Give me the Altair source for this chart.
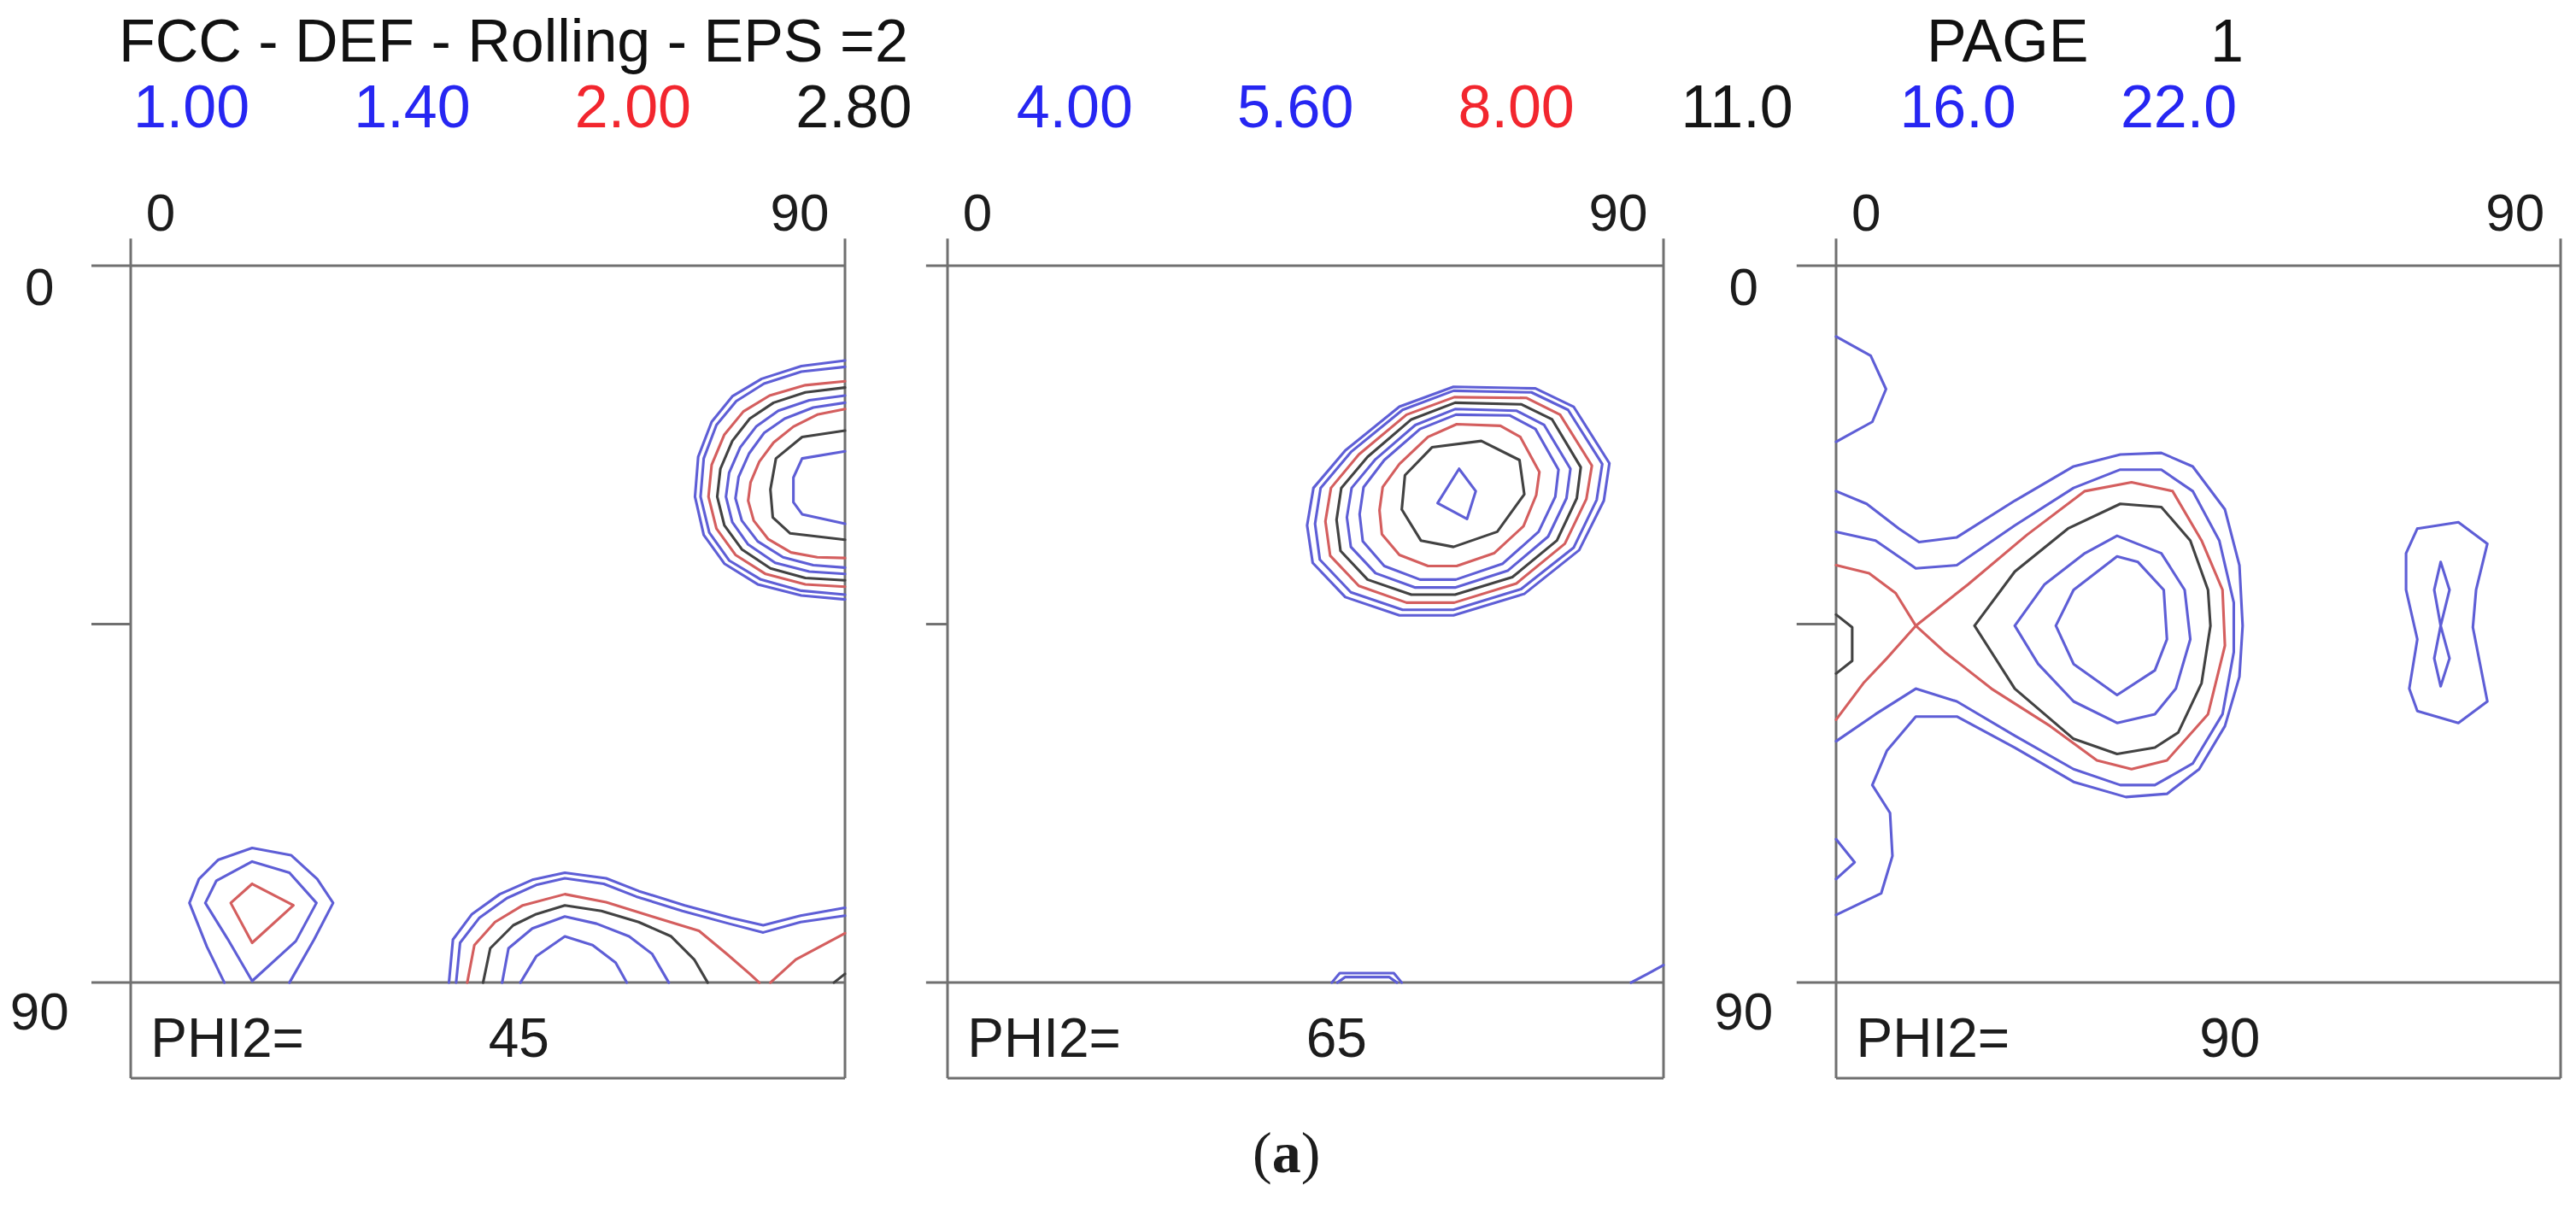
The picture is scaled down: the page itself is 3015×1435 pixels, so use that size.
import altair as alt
import pandas as pd

# ---------------- values ----------------
TITLE = "FCC - DEF - Rolling - EPS =2"
PAGE_WORD = "PAGE"
PAGE_NO = "1"
LEVELS = ["1.00", "1.40", "2.00", "2.80", "4.00", "5.60", "8.00", "11.0", "16.0", "22.0"]
LEVEL_HUES = ["blue", "blue", "red", "black", "blue", "blue", "red", "black", "blue", "blue"]
PHI2_VALUES = ["45", "65", "90"]
CAPTION = "a"

# contour polylines: (level, [(phi1, PHI), ...])
P1_RIGHT_TOP = [
    ("1.00", [(90, 11.9), (84.5, 12.6), (79.5, 14.2), (75.8, 16.4), (73.2, 19.6), (71.5, 24.0), (71.1, 29.0), (72.2, 33.8), (74.8, 37.4), (79.0, 40.0), (84.5, 41.4), (90, 41.9)]),
    ("1.40", [(90, 12.7), (84.5, 13.3), (79.8, 14.8), (76.3, 17.0), (73.8, 20.0), (72.2, 24.2), (71.8, 29.0), (72.9, 33.5), (75.4, 37.0), (79.4, 39.4), (84.5, 40.8), (90, 41.3)]),
    ("2.00", [(90, 14.5), (85, 15.0), (80.5, 16.3), (77.2, 18.3), (74.8, 21.2), (73.2, 25.0), (72.8, 29.0), (73.8, 33.0), (76.2, 36.3), (80.0, 38.7), (85, 40.0), (90, 40.3)]),
    ("2.80", [(90, 15.3), (85, 15.9), (81.0, 17.2), (78.0, 19.2), (75.8, 22.0), (74.3, 25.5), (73.9, 29.0), (74.8, 32.6), (77.0, 35.6), (80.6, 38.0), (85, 39.2), (90, 39.5)]),
    ("4.00", [(90, 16.3), (85.5, 16.9), (81.6, 18.2), (78.8, 20.2), (76.8, 22.8), (75.4, 26.0), (75.0, 29.0), (75.8, 32.2), (77.8, 35.0), (81.2, 37.3), (85.5, 38.4), (90, 38.7)]),
    ("5.60", [(90, 17.2), (86, 17.8), (82.4, 19.2), (79.8, 21.0), (77.9, 23.6), (76.6, 26.5), (76.2, 29.2), (77.0, 32.0), (79.0, 34.6), (82.2, 36.6), (86, 37.6), (90, 37.9)]),
    ("8.00", [(90, 18.0), (86.5, 18.7), (83.5, 20.2), (81.0, 22.2), (79.2, 24.6), (78.1, 27.2), (77.8, 29.5), (78.5, 32.0), (80.3, 34.3), (83.2, 36.0), (86.5, 36.6), (90, 36.7)]),
    ("11.0", [(90, 20.7), (84.6, 21.5), (81.3, 24.2), (80.6, 28.1), (80.9, 31.6), (83.1, 33.6), (90, 34.4)]),
    ("16.0", [(90, 23.3), (84.6, 24.2), (83.5, 26.6), (83.5, 29.7), (84.6, 31.2), (90, 32.4)]),
]
P1_BOTTOM_LEFT = [
    ("1.00", [(11.8, 90), (9.6, 85.5), (7.4, 80.0), (8.6, 77.0), (11.0, 74.6), (15.3, 73.1), (20.2, 74.0), (23.5, 77.0), (25.5, 80.0), (23.1, 84.6), (20.0, 90)]),
    ("1.40", [(15.3, 89.8), (12.2, 84.5), (9.4, 80.0), (10.8, 77.2), (15.3, 74.8), (20.0, 76.2), (23.4, 80.0), (20.8, 84.8), (15.3, 89.8)]),
    ("2.00", [(15.3, 77.6), (20.5, 80.3), (15.3, 85.0), (12.6, 80.0), (15.3, 77.6)]),
]
P1_BOTTOM_MID = [
    ("1.00", [(40.1, 90), (40.6, 84.6), (43.0, 81.4), (46.5, 78.9), (50.6, 77.1), (54.7, 76.2), (59.9, 76.9), (64.0, 78.5), (69.8, 80.3), (75.7, 81.9), (79.7, 82.8), (84.4, 81.6), (90, 80.6)]),
    ("1.40", [(41.0, 90), (41.5, 85.0), (43.9, 81.9), (47.4, 79.4), (51.2, 77.7), (54.7, 76.9), (59.6, 77.6), (63.7, 79.2), (69.5, 81.0), (75.4, 82.6), (79.7, 83.7), (84.4, 82.4), (90, 81.6)]),
    ("2.00", [(42.4, 90), (43.3, 85.3), (45.9, 82.4), (49.4, 80.3), (54.7, 78.9), (59.9, 79.9), (65.7, 81.7), (71.6, 83.5), (75.1, 86.4), (78.0, 88.9), (79.2, 90)]),
    ("2.00", [(80.6, 90), (83.8, 87.1), (90, 83.8)]),
    ("2.80", [(44.4, 90), (45.3, 85.7), (48.2, 82.8), (51.1, 81.4), (54.7, 80.3), (59.3, 81.0), (64.0, 82.4), (68.1, 84.2), (71.0, 87.1), (72.7, 90)]),
    ("4.00", [(46.8, 90), (47.6, 85.7), (50.6, 83.2), (54.7, 81.7), (58.7, 82.6), (62.8, 84.2), (65.7, 86.4), (67.8, 90)]),
    ("5.60", [(49.1, 90), (51.1, 86.7), (54.7, 84.2), (58.2, 85.3), (61.1, 87.5), (62.5, 90)]),
    ("2.80", [(88.6, 90), (90, 88.9)]),
]
P2_MAIN = [
    ("1.00", [(45.2, 32.6), (46.0, 27.9), (50.0, 23.2), (56.8, 17.7), (63.6, 15.2), (73.9, 15.4), (78.7, 17.7), (83.2, 24.8), (82.5, 29.5), (79.4, 35.7), (72.5, 41.2), (63.6, 43.9), (56.8, 43.9), (50.0, 41.6), (45.9, 37.3), (45.2, 32.6)]),
    ("1.40", [(46.2, 32.4), (46.9, 27.9), (50.7, 23.4), (57.2, 18.1), (63.6, 15.7), (73.4, 15.9), (78.0, 18.1), (82.3, 24.9), (81.6, 29.4), (78.7, 35.4), (72.1, 40.6), (63.6, 43.2), (57.2, 43.2), (50.7, 41.0), (46.8, 36.9), (46.2, 32.4)]),
    ("2.00", [(47.5, 32.1), (48.2, 27.9), (51.7, 23.7), (57.7, 18.7), (63.7, 16.5), (72.8, 16.6), (77.0, 18.7), (81.0, 25.1), (80.3, 29.3), (77.6, 34.9), (71.5, 39.9), (63.7, 42.3), (57.7, 42.3), (51.7, 40.2), (48.1, 36.4), (47.5, 32.1)]),
    ("2.80", [(48.9, 31.9), (49.5, 27.9), (52.8, 24.0), (58.3, 19.3), (63.8, 17.2), (72.1, 17.4), (76.0, 19.3), (79.6, 25.3), (79.1, 29.2), (76.6, 34.5), (71.0, 39.1), (63.8, 41.3), (58.3, 41.3), (52.8, 39.4), (49.4, 35.8), (48.9, 31.9)]),
    ("4.00", [(50.2, 31.6), (50.8, 27.9), (53.8, 24.3), (58.8, 20.0), (63.8, 18.0), (71.5, 18.2), (75.0, 20.0), (78.3, 25.5), (77.8, 29.2), (75.5, 34.0), (70.4, 38.3), (63.8, 40.4), (58.8, 40.4), (53.8, 38.6), (50.7, 35.3), (50.2, 31.6)]),
    ("5.60", [(51.8, 31.2), (52.3, 27.8), (54.9, 24.4), (59.4, 20.5), (63.9, 18.7), (70.7, 18.8), (73.9, 20.5), (76.8, 25.6), (76.4, 29.0), (74.3, 33.4), (69.8, 37.4), (63.9, 39.4), (59.4, 39.4), (54.9, 37.7), (52.2, 34.6), (51.8, 31.2)]),
    ("8.00", [(54.3, 30.7), (54.7, 27.8), (56.8, 24.9), (60.4, 21.5), (64.0, 19.9), (69.5, 20.1), (72.0, 21.5), (74.4, 25.9), (74.0, 28.8), (72.4, 32.7), (68.7, 36.1), (64.0, 37.7), (60.4, 37.7), (56.8, 36.3), (54.6, 33.7), (54.3, 30.7)]),
    ("11.0", [(57.1, 30.6), (57.5, 26.3), (60.9, 22.8), (67.1, 22.0), (71.9, 24.4), (72.5, 28.7), (69.1, 33.4), (63.6, 35.3), (59.5, 34.5), (57.1, 30.6)]),
    ("16.0", [(64.3, 25.5), (66.4, 28.3), (65.3, 31.8), (61.6, 29.8), (64.3, 25.5)]),
]
P2_EDGE = [
    ("1.00", [(48.3, 90), (49.3, 88.8), (56.1, 88.8), (57.1, 90)]),
    ("1.40", [(49.0, 90), (50.0, 89.3), (55.5, 89.3), (56.5, 90)]),
    ("1.00", [(85.9, 90), (88.0, 88.9), (90, 87.8)]),
]
P3_MAIN = [
    ("1.00", [(0, 8.9), (4.3, 11.3), (6.2, 15.5), (4.5, 19.6), (0, 22.1)]),
    ("1.00", [(0, 28.3), (3.8, 29.9), (7.8, 33.0), (10.3, 34.7), (15.0, 34.1), (22.2, 29.5), (29.5, 25.2), (35.3, 23.7), (40.4, 23.5), (44.3, 25.2), (48.3, 30.6), (50.1, 37.6), (50.5, 45.2), (50.1, 51.6), (48.3, 57.8), (45.1, 63.2), (41.1, 66.3), (36.0, 66.7), (29.5, 64.8), (22.2, 60.5), (15.0, 56.6), (9.9, 56.6), (6.3, 60.9), (4.5, 65.2), (6.7, 68.7), (7.0, 74.1), (5.6, 78.8), (0, 81.5)]),
    ("1.40", [(0, 33.4), (4.9, 34.5), (9.9, 38.0), (15.0, 37.6), (22.2, 32.6), (29.5, 27.9), (35.3, 25.6), (40.4, 25.6), (44.3, 28.3), (47.6, 34.5), (49.4, 42.3), (49.4, 48.5), (48.0, 56.3), (44.3, 62.5), (39.6, 65.2), (35.3, 65.2), (29.5, 63.2), (22.2, 59.0), (15.0, 54.7), (9.9, 53.1), (4.9, 56.3), (0, 59.7)]),
    ("2.00", [(0, 37.6), (4.1, 38.6), (7.4, 41.1), (9.9, 45.2), (13.5, 48.5), (19.3, 53.1), (26.6, 57.8), (32.4, 62.1), (36.7, 63.2), (41.1, 62.1), (46.2, 56.3), (48.3, 47.7), (48.0, 40.7), (45.4, 34.5), (41.8, 28.3), (36.7, 27.2), (30.9, 28.3), (23.7, 33.8), (16.4, 40.0), (9.9, 45.2), (6.3, 49.3), (3.4, 52.4), (0, 57.0)]),
    ("2.80", [(17.2, 45.2), (22.2, 38.4), (28.8, 33.0), (35.3, 29.9), (40.4, 30.3), (44.0, 34.5), (46.2, 40.7), (46.5, 45.2), (45.4, 52.4), (42.5, 58.6), (39.6, 60.5), (34.9, 61.3), (29.5, 59.4), (22.2, 53.1), (17.2, 45.2)]),
    ("4.00", [(22.2, 45.2), (25.9, 40.0), (30.9, 36.1), (34.9, 33.9), (40.4, 36.1), (43.3, 40.7), (44.0, 46.9), (42.2, 53.1), (39.6, 56.3), (34.9, 57.4), (29.5, 54.7), (25.1, 50.0), (22.2, 45.2)]),
    ("5.60", [(27.3, 45.2), (29.5, 40.7), (34.9, 36.5), (37.5, 37.2), (40.7, 40.7), (41.1, 46.9), (39.6, 50.8), (34.9, 53.9), (29.5, 50.0), (27.3, 45.2)]),
    ("2.80", [(0, 43.8), (2.0, 45.4), (2.0, 49.6), (0, 51.2)]),
    ("1.00", [(0, 72.0), (2.3, 74.9), (0, 77.0)]),
]
P3_SIDE = [
    ("1.00", [(72.2, 33.0), (77.3, 32.2), (80.9, 34.9), (79.5, 40.7), (79.1, 45.4), (80.9, 54.7), (77.3, 57.4), (72.2, 55.9), (71.2, 53.1), (72.2, 46.9), (70.8, 40.7), (70.8, 36.1), (72.2, 33.0)]),
    ("1.40", [(75.1, 37.2), (76.2, 40.7), (75.1, 45.2), (76.2, 49.3), (75.1, 52.8), (74.3, 49.3), (75.1, 45.2), (74.3, 40.7), (75.1, 37.2)]),
]

# ---------------- styles ----------------
FONT = "Liberation Sans"
SERIF = "Liberation Serif"
TEXT_HEX = {"blue": "#2626f2", "red": "#f2262e", "black": "#151515"}
LINE_HEX = {"blue": "#5e5ed6", "red": "#d45e5e", "black": "#424242"}
FRAME_HEX = "#707070"
HUE_OF = dict(zip(LEVELS, LEVEL_HUES))
PLOT_H = 951
Y_MAX = 102


def contour_frame(contours):
    rows = []
    for cid, (lvl, pts) in enumerate(contours):
        for j, (a, b) in enumerate(pts):
            rows.append({"cid": cid, "ord": j, "phi1": a, "PHI": b,
                         "col": LINE_HEX[HUE_OF[lvl]], "level": lvl})
    return pd.DataFrame(rows)


def make_panel(contours, phi2, width, xmax, ext, left_labels, caption=False):
    xs = alt.Scale(domain=[0, xmax], nice=False, zero=False)
    ys = alt.Scale(domain=[0, Y_MAX], reverse=True, nice=False, zero=False)

    def X(f):
        return alt.X(f, type="quantitative", scale=xs, axis=None)

    def Y(f):
        return alt.Y(f, type="quantitative", scale=ys, axis=None)

    fdf = pd.DataFrame({
        "x": [-ext, -ext, -ext, 0, 0, 90],
        "x2": [90, 90, 0, 90, 0, 90],
        "y": [0, 90, 45, Y_MAX, -3.4, -3.4],
        "y2": [0, 90, 45, Y_MAX, Y_MAX, Y_MAX],
    })
    frame = alt.Chart(fdf).mark_rule(color=FRAME_HEX, strokeWidth=3).encode(
        x=X("x"), x2="x2:Q", y=Y("y"), y2="y2:Q")

    lines = alt.Chart(contour_frame(contours)).mark_line(
        strokeWidth=3.1, strokeJoin="round", strokeCap="round").encode(
        x=X("phi1"), y=Y("PHI"), detail="cid:N", order="ord:Q",
        color=alt.Color("col:N", scale=None))

    def txt(rows, align, size=62, baseline="alphabetic", font=FONT, weight="normal", dx=0):
        return alt.Chart(pd.DataFrame(rows)).mark_text(
            align=align, baseline=baseline, fontSize=size, font=font,
            fontWeight=weight, color="#1c1c1c", dx=dx).encode(
            x=X("x"), y=Y("y"), text="t:N")

    layers = [frame, lines,
              txt([{"x": 1.9, "y": -4.4, "t": "0"}], "left"),
              txt([{"x": 88.0, "y": -4.4, "t": "90"}], "right"),
              txt([{"x": 2.5, "y": 99.3, "t": "PHI2="}], "left", size=64),
              txt([{"x": 48.9, "y": 99.3, "t": phi2}], "center", size=64)]
    if left_labels:
        layers.append(txt([{"x": -11.5, "y": 4.9, "t": "0"},
                           {"x": -11.5, "y": 95.9, "t": "90"}], "center"))
    if caption:
        layers.append(txt([{"x": 42.6, "y": 113.8, "t": "("}], "right", size=68, font=SERIF, dx=-17))
        layers.append(txt([{"x": 42.6, "y": 113.8, "t": CAPTION}], "center", size=68, font=SERIF, weight="bold"))
        layers.append(txt([{"x": 42.6, "y": 113.8, "t": ")"}], "left", size=68, font=SERIF, dx=17))
    return alt.layer(*layers).properties(width=width, height=PLOT_H)


p1 = make_panel(P1_RIGHT_TOP + P1_BOTTOM_LEFT + P1_BOTTOM_MID, PHI2_VALUES[0], 836, 90, 4.95, True)
p2 = make_panel(P2_MAIN + P2_EDGE, PHI2_VALUES[1], 920, 90 * 920 / 838, 2.7, False, caption=True)
p3 = make_panel(P3_MAIN + P3_SIDE, PHI2_VALUES[2], 848, 90, 4.9, True)

# ---------------- header ----------------
hdr = pd.DataFrame({"label": LEVELS, "col": [TEXT_HEX[h] for h in LEVEL_HUES]})
legend = alt.Chart(hdr).mark_text(fontSize=70, font=FONT, baseline="alphabetic").encode(
    x=alt.X("label:N", sort=None, axis=None,
            scale=alt.Scale(type="point", range=[71, 2397], padding=0)),
    y=alt.value(141),
    text="label:N",
    color=alt.Color("col:N", scale=None))
title = alt.Chart(pd.DataFrame({"t": [TITLE]})).mark_text(
    align="left", baseline="alphabetic", fontSize=70, font=FONT, color="#111111").encode(
    x=alt.value(-14), y=alt.value(64), text="t:N")
page_w = alt.Chart(pd.DataFrame({"t": [PAGE_WORD]})).mark_text(
    align="left", baseline="alphabetic", fontSize=70, font=FONT, color="#111111").encode(
    x=alt.value(2102), y=alt.value(64), text="t:N")
page_n = alt.Chart(pd.DataFrame({"t": [PAGE_NO]})).mark_text(
    align="right", baseline="alphabetic", fontSize=70, font=FONT, color="#111111").encode(
    x=alt.value(2473), y=alt.value(64), text="t:N")
header = alt.layer(title, page_w, page_n, legend).properties(width=2844, height=290)

panels = alt.hconcat(p1, p2, p3, spacing=120).properties(bounds="flush")
chart = alt.vconcat(header, panels, spacing=13).properties(
    bounds="flush",
    padding={"left": 3, "top": 0, "right": 5, "bottom": 3},
).configure_view(strokeWidth=0)

chart.save("out.html", embed_options={"renderer": "svg", "actions": False})
